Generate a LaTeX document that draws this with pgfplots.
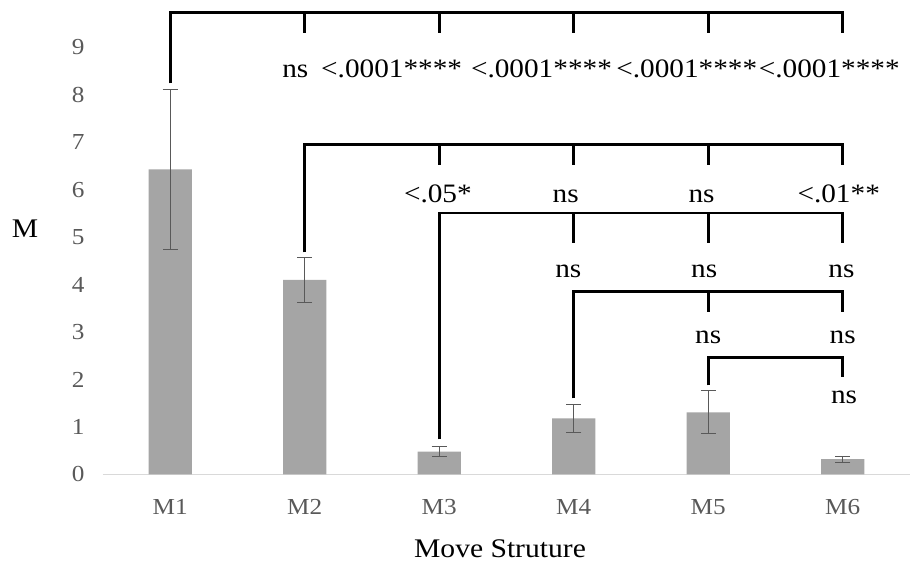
\documentclass[border=0pt]{standalone}
\usepackage{pgfplots}
\pgfplotsset{compat=1.18}
\usepackage{fontspec}
\setmainfont{Liberation Serif}[FakeStretch=1.1]
\definecolor{barfill}{HTML}{A5A5A5}
\definecolor{ticklab}{HTML}{595959}
\definecolor{axisline}{HTML}{D9D9D9}
\definecolor{errc}{HTML}{595959}
\newcommand{\annfont}{\fontsize{26.7}{30}\selectfont}
\begin{document}
\begin{tikzpicture}
\begin{axis}[
  scale only axis, width=807bp, height=474.4bp,
  xmin=-0.5, xmax=5.5, ymin=0, ymax=10,
  clip=false,
  axis x line*=bottom, axis y line*=left,
  x axis line style={axisline, line width=1.5bp, -},
  y axis line style={draw=none},
  tick style={draw=none}, major tick length=0pt,
  xtick={0,1,2,3,4,5}, xticklabels={M1,M2,M3,M4,M5,M6},
  ytick={0,1,2,3,4,5,6,7,8,9},
  /pgf/number format/assume math mode=true,
  ticklabel style={font=\fontsize{23}{25}\selectfont, text=ticklab},
  xticklabel style={anchor=base, yshift=-40bp},
  yticklabel style={anchor=east, xshift=-15bp},
  xlabel={Move Struture},
  xlabel style={at={(rel axis cs:0.492,-0.175)}, anchor=base, font=\fontsize{27}{30}\selectfont, text=black},
  ylabel={M},
  ylabel style={at={(rel axis cs:-0.0967,0.4996)}, anchor=base, rotate=-90, font=\fontsize{27}{30}\selectfont, text=black},
]
\addplot[ybar, bar width=0.32, fill=barfill, draw=none,
  error bars/.cd, y dir=both, y explicit,
  error bar style={draw=errc, line width=0.8bp},
  error mark=-,
  error mark options={rotate=90, draw=errc, line width=0.8bp, mark size=7.5bp}]
  table[x=x, y=y, y error=e] {
x y e
0 6.43 1.68
1 4.10 0.47
2 0.48 0.105
3 1.18 0.295
4 1.31 0.455
5 0.32 0.065
};
% brackets
\draw[line width=2.6bp] (axis cs:0,8.242) |- (axis cs:5,9.739) -- (axis cs:5,9.296);
\draw[line width=2.6bp] (axis cs:1,9.739) -- (axis cs:1,9.296);
\draw[line width=2.6bp] (axis cs:2,9.739) -- (axis cs:2,9.296);
\draw[line width=2.6bp] (axis cs:3,9.739) -- (axis cs:3,9.296);
\draw[line width=2.6bp] (axis cs:4,9.739) -- (axis cs:4,9.296);
\draw[line width=2.6bp] (axis cs:1,4.680) |- (axis cs:5,6.956) -- (axis cs:5,6.514);
\draw[line width=2.6bp] (axis cs:2,6.956) -- (axis cs:2,6.514);
\draw[line width=2.6bp] (axis cs:3,6.956) -- (axis cs:3,6.514);
\draw[line width=2.6bp] (axis cs:4,6.956) -- (axis cs:4,6.514);
\draw[line width=2.6bp] (axis cs:2,0.738) |- (axis cs:5,5.507) -- (axis cs:5,4.869);
\draw[line width=2.6bp] (axis cs:3,5.507) -- (axis cs:3,4.869);
\draw[line width=2.6bp] (axis cs:4,5.507) -- (axis cs:4,4.869);
\draw[line width=2.6bp] (axis cs:3,1.602) |- (axis cs:5,3.858) -- (axis cs:5,3.415);
\draw[line width=2.6bp] (axis cs:4,3.858) -- (axis cs:4,3.415);
\draw[line width=2.6bp] (axis cs:4,1.876) |- (axis cs:5,2.466) -- (axis cs:5,2.045);
% labels
\node[anchor=base, inner sep=0pt, font=\annfont] at (axis cs:0.93,8.369) {ns};
\node[anchor=base, inner sep=0pt, font=\annfont] at (axis cs:1.646,8.369) {<.0001****};
\node[anchor=base, inner sep=0pt, font=\annfont] at (axis cs:2.76,8.369) {<.0001****};
\node[anchor=base, inner sep=0pt, font=\annfont] at (axis cs:3.84,8.369) {<.0001****};
\node[anchor=base, inner sep=0pt, font=\annfont] at (axis cs:4.90,8.369) {<.0001****};
\node[anchor=base, inner sep=0pt, font=\annfont] at (axis cs:1.99,5.734) {<.05*};
\node[anchor=base, inner sep=0pt, font=\annfont] at (axis cs:2.94,5.734) {ns};
\node[anchor=base, inner sep=0pt, font=\annfont] at (axis cs:3.95,5.734) {ns};
\node[anchor=base, inner sep=0pt, font=\annfont] at (axis cs:4.97,5.734) {<.01**};
\node[anchor=base, inner sep=0pt, font=\annfont] at (axis cs:2.96,4.153) {ns};
\node[anchor=base, inner sep=0pt, font=\annfont] at (axis cs:3.97,4.153) {ns};
\node[anchor=base, inner sep=0pt, font=\annfont] at (axis cs:4.99,4.153) {ns};
\node[anchor=base, inner sep=0pt, font=\annfont] at (axis cs:4.00,2.761) {ns};
\node[anchor=base, inner sep=0pt, font=\annfont] at (axis cs:5.00,2.761) {ns};
\node[anchor=base, inner sep=0pt, font=\annfont] at (axis cs:5.01,1.497) {ns};
\coordinate (BL) at (rel axis cs:-0.12763,-0.19604);
\coordinate (TR) at (rel axis cs:1.01487,1.0);
\end{axis}
\pgfresetboundingbox
\path[use as bounding box] (BL) rectangle (TR);
\end{tikzpicture}
\end{document}
